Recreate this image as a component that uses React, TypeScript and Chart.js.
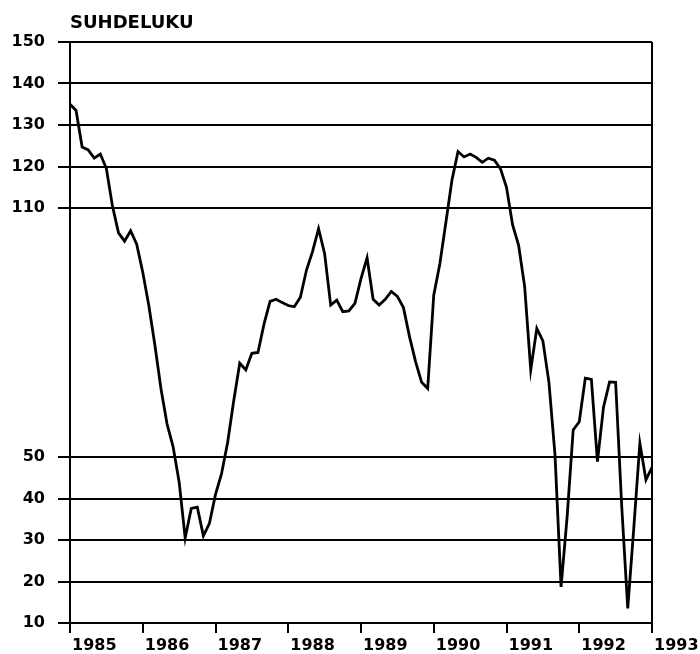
import React, { useEffect, useRef } from "react";
import { Chart, registerables } from "chart.js";

Chart.register(...registerables);

const titleText = "SUHDELUKU";
const yearLabels = ["1985", "1986", "1987", "1988", "1989", "1990", "1991", "1992", "1993"];
const yTickValues = [10, 20, 30, 40, 50, 110, 120, 130, 140, 150];

// Monthly index values, Jan 1985 .. Jan 1993
const values1985 = [135, 133.5, 124.7, 124, 122, 123, 119.5, 110.5, 104, 102, 104.5, 101.3];
const values1986 = [94.5, 86.5, 77, 66.5, 58, 52.5, 44, 30.5, 37.6, 37.9, 31, 34];
const values1987 = [41, 46, 53.5, 63.5, 72.6, 71, 75, 75.2, 82, 87.5, 88, 87.2];
const values1988 = [86.5, 86.2, 88.5, 95, 99.5, 105, 99, 86.6, 87.8, 85, 85.2, 87];
const values1989 = [93, 98, 88, 86.6, 88, 89.9, 88.7, 86, 79, 73, 68, 66.5];
const values1990 = [89, 96.5, 106.5, 116.7, 123.6, 122.3, 123, 122.2, 121, 122, 121.5, 119.5];
const values1991 = [115, 106, 101, 91, 71, 81, 78, 68, 50.5, 18.7, 35.6, 56.5];
const values1992 = [58.5, 69, 68.7, 48.9, 62, 68.1, 68, 38.3, 13.5, 33, 53.3, 44.5];
const values1993 = [47.5];

const suhdeluku = [
  ...values1985, ...values1986, ...values1987, ...values1988,
  ...values1989, ...values1990, ...values1991, ...values1992, ...values1993,
];

const FONT = "'DejaVu Sans', 'Liberation Sans', sans-serif";

export default function App() {
  const ref = useRef<HTMLCanvasElement>(null);

  useEffect(() => {
    if (!ref.current) return;
    const chart = new Chart(ref.current, {
      type: "line",
      data: {
        datasets: [
          {
            data: suhdeluku.map((v, i) => ({ x: i, y: v })),
            borderColor: "#000",
            borderWidth: 2.8,
            pointRadius: 0,
            tension: 0,
            fill: false,
          },
        ],
      },
      options: {
        animation: false,
        responsive: true,
        maintainAspectRatio: false,
        layout: { padding: { top: 7, left: 0, right: 48, bottom: 0 } },
        plugins: {
          legend: { display: false },
          tooltip: { enabled: false },
          title: {
            display: true,
            text: titleText,
            align: "start",
            fullSize: false,
            color: "#000",
            font: { family: FONT, size: 18, weight: "bold", lineHeight: 1.2 },
            padding: { top: 6, bottom: 7.4 },
          },
        },
        scales: {
          x: {
            type: "linear",
            min: 0,
            max: 96,
            afterBuildTicks: (s: any) => {
              s.ticks = yearLabels.map((_, i) => ({ value: i * 12 }));
            },
            afterFit: (s: any) => {
              s.height = 31;
              s.paddingLeft = 0;
              s.paddingRight = 0;
            },
            grid: {
              color: (ctx: any) => (ctx.tick && ctx.tick.value === 96 ? "#000" : "rgba(0,0,0,0)"),
              lineWidth: 2,
              tickLength: 10,
              tickColor: "#000",
              tickWidth: 2,
              drawOnChartArea: true,
            },
            border: { display: true, color: "#000", width: 2 },
            ticks: {
              autoSkip: false,
              maxRotation: 0,
              minRotation: 0,
              align: "start",
              padding: 3,
              labelOffset: 2,
              color: "#000",
              font: { family: FONT, size: 16, weight: "bold" },
              callback: (v: any) => yearLabels[Math.round(Number(v) / 12)],
            },
          },
          y: {
            type: "linear",
            min: 10,
            max: 150,
            afterBuildTicks: (s: any) => {
              s.ticks = yTickValues.map((v) => ({ value: v }));
            },
            afterFit: (s: any) => {
              s.width = 70;
              s.paddingTop = 0;
              s.paddingBottom = 0;
            },
            grid: {
              color: "#000",
              lineWidth: 2,
              tickLength: 12,
              drawOnChartArea: true,
            },
            border: { display: true, color: "#000", width: 2 },
            ticks: {
              autoSkip: false,
              padding: 13,
              color: "#000",
              font: { family: FONT, size: 16, weight: "bold" },
              callback: (v: any) => String(v),
            },
          },
        },
      },
    } as any);
    return () => chart.destroy();
  }, []);

  return (
    <div style={{ position: "absolute", left: 0, top: 0, width: 700, height: 654 }}>
      <canvas ref={ref} />
    </div>
  );
}
